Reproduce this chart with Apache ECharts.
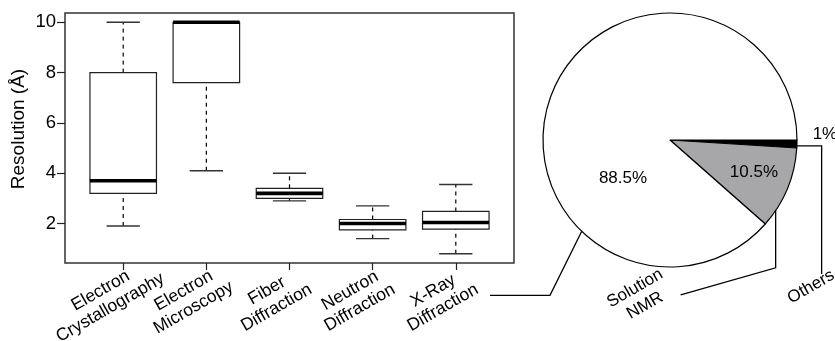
<!DOCTYPE html>
<html><head><meta charset="utf-8">
<script src="https://cdn.jsdelivr.net/npm/echarts@6/dist/echarts.min.js"></script>
<style>html,body{margin:0;padding:0;background:#fff}#c{width:835px;height:341px}</style>
</head><body><div id="c"></div>
<script>
// ---- data ----
const categories = ['Electron\nCrystallography', 'Electron\nMicroscopy', 'Fiber\nDiffraction', 'Neutron\nDiffraction', 'X-Ray\nDiffraction'];
const whiskerLow = [1.9, 4.1, 2.9, 1.4, 0.8];
const quartile1 = [3.2, 7.6, 3.0, 1.75, 1.78];
const medians = [3.7, 10.0, 3.2, 2.0, 2.04];
const quartile3 = [8.0, 10.0, 3.4, 2.16, 2.48];
const whiskerHigh = [10.0, 10.0, 4.0, 2.7, 3.55];
const yTicks = [2, 4, 6, 8, 10];
const pieNames = ['Others', 'Solution\nNMR', 'X-Ray\nDiffraction'];
const pieValues = [1, 10.5, 88.5];
const pieLabels = ['1%', '10.5%', '88.5%'];

// ---- layout constants (pixels / fractions of pie radius) ----
const PIE_C = [670, 140], PIE_R = 127;
const nameLabelPos = [[1.11, 1.156], [-0.236, 1.236], [-1.5, 1.223]];
const nameLinePts = [
  [[1.0, 0.047], [1.194, 0.047], [1.194, 1.055]],
  [[0.832, 0.554], [0.832, 1.006], [0.084, 1.220]],
  [[-0.695, 0.719], [-0.945, 1.223], [-1.417, 1.223]]
];
const pctLabelPos = [[1.22, -0.047], [0.661, 0.252], [-0.37, 0.30]];
function pt(f) { return [PIE_C[0] + PIE_R * f[0], PIE_C[1] + PIE_R * f[1]]; }

const FONT = 'Liberation Sans';
const boxData = categories.map((c, i) => [i + 1, whiskerLow[i], quartile1[i], medians[i], quartile3[i], whiskerHigh[i]]);
const tickPos = categories.map((c, i) => i + 1);

function renderBox(params, api) {
  const x = api.value(0);
  const lo = api.value(1), q1 = api.value(2), md = api.value(3), q3 = api.value(4), hi = api.value(5);
  const half = 0.4, cap = 0.2;
  const P = (a, b) => api.coord([a, b]);
  const seg = (a, b, style) => {
    const s = P(a[0], a[1]), e = P(b[0], b[1]);
    return { type: 'line', shape: { x1: s[0], y1: s[1], x2: e[0], y2: e[1] }, style: style };
  };
  const dash = { stroke: '#000', lineWidth: 1.2, lineDash: [4, 4] };
  const capStyle = { stroke: '#333', lineWidth: 1.4 };
  const ch = [];
  if (hi > q3) { ch.push(seg([x, q3], [x, hi], dash)); ch.push(seg([x - cap, hi], [x + cap, hi], capStyle)); }
  if (lo < q1) { ch.push(seg([x, lo], [x, q1], dash)); ch.push(seg([x - cap, lo], [x + cap, lo], capStyle)); }
  const tl = P(x - half, q3), br = P(x + half, q1);
  ch.push({ type: 'rect', shape: { x: tl[0], y: tl[1], width: br[0] - tl[0], height: br[1] - tl[1] },
    style: { fill: '#fff', stroke: '#222', lineWidth: 1.2 } });
  ch.push(seg([x - half, md], [x + half, md], { stroke: '#000', lineWidth: 3.6 }));
  return { type: 'group', children: ch };
}

const chart = echarts.init(document.getElementById('c'), null, { renderer: 'canvas' });
chart.setOption({
  animation: false,
  backgroundColor: '#fff',
  grid: { left: 65, top: 13, right: 321, bottom: 78, show: true, borderColor: '#333', borderWidth: 1.5,
    backgroundColor: 'transparent', outerBoundsMode: 'none', containLabel: false },
  xAxis: {
    type: 'value', min: 0.3, max: 5.7,
    axisLine: { show: false }, splitLine: { show: false },
    axisTick: { show: true, customValues: tickPos, length: 7, lineStyle: { color: '#222', width: 1.2 } },
    axisLabel: {
      customValues: tickPos, formatter: v => categories[Math.round(v) - 1],
      rotate: 30, align: 'center', verticalAlign: 'middle', margin: 26, padding: [0, 41, 0, 0],
      fontSize: 17.5, lineHeight: 19.5, color: '#000', fontFamily: FONT, interval: 0
    }
  },
  yAxis: {
    type: 'value', min: 0.43, max: 10.37,
    axisLine: { show: false }, splitLine: { show: false },
    axisTick: { show: true, customValues: yTicks, length: 8, lineStyle: { color: '#222', width: 1.2 } },
    axisLabel: { customValues: yTicks, margin: 9, fontSize: 18.5, color: '#000', fontFamily: FONT },
    name: 'Resolution (Å)', nameLocation: 'middle', nameGap: 46, nameMoveOverlap: false,
    nameTextStyle: { fontSize: 19, color: '#000', fontFamily: FONT, padding: [0, 0, 0, 18],
      verticalAlign: 'middle' }
  },
  series: [
    {
      type: 'custom', renderItem: renderBox, data: boxData, silent: true,
      encode: { x: 0, y: [1, 2, 3, 4, 5] }
    },
    {
      type: 'pie', center: PIE_C, radius: PIE_R, startAngle: 0, clockwise: true,
      avoidLabelOverlap: false, silent: true,
      data: pieNames.map((n, i) => ({ name: n, value: pieValues[i],
        itemStyle: { color: ['#000', '#a7a7a9', '#fff'][i] } })),
      itemStyle: { borderColor: '#000', borderWidth: 1.2 },
      label: { show: true, position: 'inside', formatter: p => pieLabels[p.dataIndex],
        fontSize: 17, color: '#000', fontFamily: FONT },
      labelLine: { show: false },
      labelLayout: function (p) {
        const c = pt(pctLabelPos[p.dataIndex]);
        return { x: c[0], y: c[1], align: 'center', verticalAlign: 'middle' };
      },
      emphasis: { disabled: true }
    },
    {
      type: 'pie', center: PIE_C, radius: PIE_R, startAngle: 0, clockwise: true, z: 5,
      avoidLabelOverlap: false, silent: true,
      data: pieNames.map((n, i) => ({ name: n, value: pieValues[i] })),
      itemStyle: { color: 'rgba(0,0,0,0)', borderWidth: 0 },
      label: { show: true, position: 'outside', formatter: p => (p.dataIndex === 2 ? ' ' : p.name),
        fontSize: 17, lineHeight: 20, color: '#000', fontFamily: FONT },
      labelLine: { show: true, smooth: false, lineStyle: { color: '#000', width: 1.3 } },
      labelLayout: function (p) {
        const i = p.dataIndex;
        const c = pt(nameLabelPos[i]);
        return { x: c[0], y: c[1], align: 'center', verticalAlign: 'middle', rotate: 30,
          labelLinePoints: nameLinePts[i].map(pt) };
      },
      emphasis: { disabled: true }
    }
  ]
});
</script>
</body></html>
